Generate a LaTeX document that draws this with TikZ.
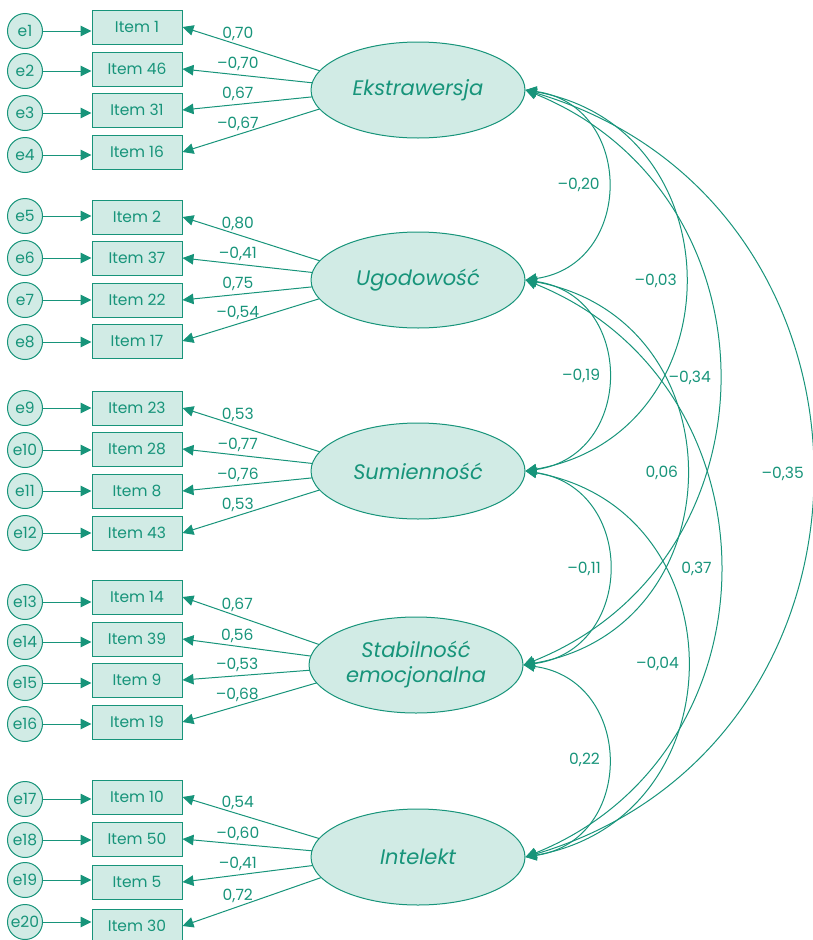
\documentclass[tikz,border=0pt]{standalone}
\usepackage{fontspec}
\setmainfont{Poppins}
\usetikzlibrary{arrows.meta,shapes.geometric,backgrounds}
\definecolor{semgreen}{HTML}{17947A}
\definecolor{semmint}{HTML}{D1EBE5}

\begin{document}
\begin{tikzpicture}
        [x=1pt,y=-1pt,
        font=\fontsize{15.5}{18}\selectfont,text=semgreen,
        errnode/.style={circle,draw=semgreen,fill=semmint,line width=1pt,minimum size=35pt,inner sep=0pt},
        itembox/.style={rectangle,draw=semgreen,fill=semmint,line width=1pt,minimum width=90pt,minimum height=34pt,inner sep=0pt},
        latent/.style={ellipse,draw=semgreen,fill=semmint,line width=1pt,minimum width=214pt,minimum height=96pt,inner sep=0pt,align=center,font=\fontsize{21}{25}\selectfont\itshape},
        arr/.style={->,>={Triangle[length=11pt,width=10.5pt]},draw=semgreen,line width=1pt},
        cov/.style={<->,>={Triangle[length=11pt,width=10.5pt]},draw=semgreen,line width=1pt},
        lbl/.style={pos=0.72,above}]
        \useasboundingbox (0,0) rectangle (812,940);

        % latent factors
        \node (eks) at (418,90) [latent] {Ekstrawersja};
        \node (ugo) at (418,280) [latent] {Ugodowość};
        \node (sum) at (418,471) [latent] {Sumienność};
        \node (stab) at (416,665) [latent] {Stabilność\\emocjonalna};
        \node (int) at (418,857) [latent] {Intelekt};
        \coordinate (eks-p) at (380,90);
        \coordinate (ugo-p) at (380,280);
        \coordinate (sum-p) at (380,471);
        \coordinate (stab-p) at (378,665);
        \coordinate (int-p) at (380,857);

        % items, errors, loadings
        \foreach \i/\item/\y/\ey/\lat/\val in {
            1/1/27/31/eks/{0,70}, 2/46/69/71/eks/{–0,70}, 3/31/110/113/eks/{0,67}, 4/16/152/155/eks/{–0,67},
            5/2/217/216/ugo/{0,80}, 6/37/258/258/ugo/{–0,41}, 7/22/300/300/ugo/{0,75}, 8/17/341/342/ugo/{–0,54},
            9/23/408/408/sum/{0,53}, 10/28/449/450/sum/{–0,77}, 11/8/491/491/sum/{–0,76}, 12/43/533/533/sum/{0,53},
            13/14/597/602/stab/{0,67}, 14/39/639/642/stab/{0,56}, 15/9/680/683/stab/{–0,53}, 16/19/722/724/stab/{–0,68},
            17/10/797/799/int/{0,54}, 18/50/839/840/int/{–0,60}, 19/5/882/880/int/{–0,41}, 20/30/926/922/int/{0,72}}
        {
            \node (i\i) at (137,\y) [itembox] {Item \item};
            \node (e\i) at (25,\ey) [errnode] {e\i};
            \draw[arr] (e\i) -- (e\i -| i\i.west);
            \begin{scope}[on background layer]
                \draw[arr] (\lat-p) -- (i\i.east) node[lbl] {\val};
            \end{scope}
        }

        % covariances
        \draw[cov] (eks.east) to[bend left=82,looseness=1.49] node[midway,left=4pt] {–0,20} (ugo.east);
        \draw[cov] (ugo.east) to[bend left=82,looseness=1.49] node[midway,left=4pt] {–0,19} (sum.east);
        \draw[cov] (sum.east) to[bend left=82,looseness=1.49] node[midway,left=4pt] {–0,11} (stab.east);
        \draw[cov] (stab.east) to[bend left=82,looseness=1.49] node[midway,left=4pt] {0,22} (int.east);
        \draw[cov] (eks.east) to[bend left=80,looseness=1.45] node[midway,left=4pt] {–0,03} (sum.east);
        \draw[cov] (ugo.east) to[bend left=80,looseness=1.45] node[midway,left=4pt] {0,06} (stab.east);
        \draw[cov] (sum.east) to[bend left=80,looseness=1.45] node[midway,left=4pt] {–0,04} (int.east);
        \draw[cov] (eks.east) to[bend left=68,looseness=1.24] node[midway,left=4pt] {–0,34} (stab.east);
        \draw[cov] (ugo.east) to[bend left=68,looseness=1.24] node[midway,left=4pt] {0,37} (int.east);
        \draw[cov] (eks.east) to[bend left=73.5,looseness=1.33] node[midway,left=4pt] {–0,35} (int.east);
\end{tikzpicture}
\end{document}
